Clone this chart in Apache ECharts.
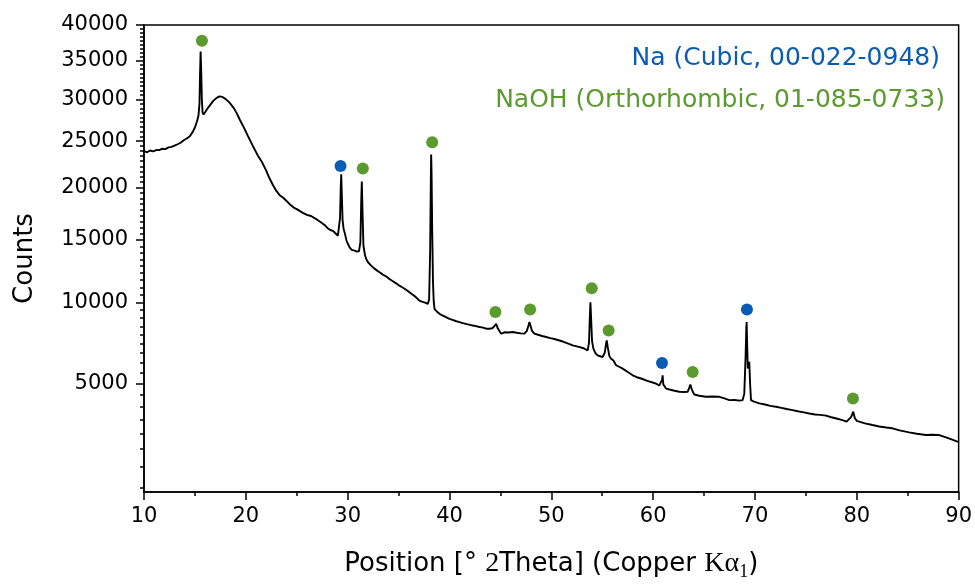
<!DOCTYPE html>
<html><head><meta charset="utf-8">
<script src="https://cdn.jsdelivr.net/npm/echarts@6/dist/echarts.min.js"></script>
<style>html,body{margin:0;padding:0;background:#fff}#c{width:975px;height:586px}</style>
</head><body><div id="c"></div>
<script>
const twoTheta = [10.0,10.3,10.6,10.9,11.2,11.5,11.8,12.1,12.4,12.7,13.0,13.3,13.6,13.9,14.2,14.5,14.8,15.0,15.2,15.35,15.45,15.5,15.56,15.62,15.68,15.75,15.85,16.0,16.2,16.45,16.8,17.1,17.4,17.7,18.0,18.4,18.8,19.1,19.4,19.8,20.2,20.7,21.2,21.6,22.0,22.3,22.66,23.0,23.3,23.64,24.0,24.3,24.7,25.0,25.28,25.6,26.0,26.4,27.0,27.4,27.8,28.06,28.3,28.55,28.8,29.04,29.15,29.25,29.32,29.37,29.42,29.5,29.6,29.7,29.9,30.19,30.4,30.68,30.9,31.11,31.25,31.33,31.39,31.45,31.55,31.7,31.82,32.0,32.31,32.6,32.9,33.13,33.5,33.8,34.1,34.4,34.8,35.08,35.4,35.7,36.06,36.4,36.7,37.04,37.3,37.6,37.87,38.0,38.1,38.17,38.2,38.24,38.3,38.38,38.45,38.53,38.75,39.02,39.3,39.6,40.0,40.3,40.6,40.98,41.3,41.7,42.0,42.29,42.6,42.94,43.3,43.6,43.92,44.2,44.4,44.58,44.75,45.07,45.4,45.8,46.21,46.6,47.0,47.36,47.6,47.78,47.85,47.95,48.1,48.34,48.7,49.1,49.49,49.9,50.3,50.8,51.2,51.6,52.1,52.5,52.8,53.08,53.3,53.57,53.7,53.78,53.84,53.9,54.0,54.13,54.35,54.55,54.8,55.05,55.25,55.38,55.44,55.55,55.7,55.87,56.1,56.36,56.7,57.01,57.5,57.99,58.4,58.9,59.3,59.8,60.28,60.6,60.78,60.88,60.93,61.0,61.27,61.7,62.1,62.57,63.0,63.39,63.55,63.65,63.8,64.04,64.53,65.19,65.8,66.5,67.0,67.48,68.0,68.5,68.78,68.95,69.08,69.15,69.18,69.24,69.3,69.44,69.52,69.61,69.9,70.42,71.0,71.5,72.06,72.6,73.1,73.69,74.2,74.8,75.33,75.9,76.4,76.97,77.5,78.0,78.6,79.0,79.19,79.45,79.65,79.8,80.0,80.24,80.8,81.54,82.2,82.9,83.5,84.2,85.14,85.9,86.78,87.4,88.09,88.7,89.3,89.88,90.0];
const counts = [23880,23750,23950,23850,24000,23990,24150,24100,24300,24350,24500,24650,24820,25100,25300,25570,26100,26580,27300,28000,29500,33000,36260,33500,30000,28400,28130,28400,28800,29220,29800,30150,30370,30300,30050,29590,28950,28300,27530,26600,25600,24430,23350,22650,21750,21000,20250,19650,19250,18990,18650,18330,18000,17850,17680,17500,17300,17200,16850,16590,16300,16040,15900,15825,15600,15380,15500,17000,20000,21360,19500,16800,16000,15680,14900,14360,14150,14070,14000,14020,14800,18500,20600,18000,14500,13700,13370,13100,12820,12600,12420,12290,12080,11950,11760,11600,11400,11240,11100,10950,10750,10550,10380,10130,10050,9980,9890,10200,14000,21000,23510,21500,16000,11500,10100,9540,9350,9190,9080,8980,8850,8780,8700,8630,8560,8490,8440,8400,8360,8300,8260,8190,8190,8220,8350,8515,8200,7870,7960,7940,7975,7930,7890,7870,8050,8450,8630,8400,8050,7870,7800,7720,7660,7590,7530,7440,7360,7260,7140,7080,7030,6980,6920,6840,7300,8900,10010,9000,7400,6940,6650,6540,6490,6450,6700,7250,7440,7000,6500,6350,6250,5980,5880,5790,5610,5430,5330,5250,5170,5080,5000,4900,4840,5200,5430,4950,4750,4690,4640,4590,4580,4590,4800,4950,4700,4460,4400,4350,4360,4350,4270,4190,4200,4170,4190,4500,6500,8300,8630,7000,5800,6170,5000,4190,4120,4040,3990,3930,3890,3840,3790,3740,3690,3640,3590,3550,3530,3500,3430,3380,3310,3250,3220,3450,3670,3400,3280,3250,3180,3110,3050,3010,2980,2900,2820,2770,2720,2730,2720,2640,2560,2480,2470];

const naTheta = [29.30, 60.87, 69.21];
const naCounts = [22240, 6110, 9490];
const naohTheta = [15.69, 31.49, 38.30, 44.51, 47.92, 53.97, 55.63, 63.88, 79.62];
const naohCounts = [37750, 21970, 24890, 9310, 9490, 11050, 8080, 5610, 4270];

const yTickValues = [5000, 10000, 15000, 20000, 25000, 30000, 35000, 40000];
const yMin = 1000, yMax = 40000;
const xMin = 10, xMax = 90, xStep = 10;

const naLabel = 'Na (Cubic, 00-022-0948)';
const naohLabel = 'NaOH (Orthorhombic, 01-085-0733)';

const NA_COLOR = '#0a5bb4', NAOH_COLOR = '#5a9a2f';
const sq = Math.sqrt;
const minorVals = [];
for (let k = 1; k * 5000 / 9 <= yMax + 1; k++) {
  const v = k * 5000 / 9;
  if (k % 9 !== 0 && v >= yMin) minorVals.push(sq(v));
}
const FONT = 'DejaVu Sans';
const chart = echarts.init(document.getElementById('c'), null, {renderer: 'canvas'});
chart.setOption({
  animation: false,
  backgroundColor: '#fff',
  grid: {left: 144, right: 16, top: 25, bottom: 92, show: true, borderColor: '#000', borderWidth: 1.5, backgroundColor: 'transparent'},
  xAxis: {
    type: 'value', min: xMin, max: xMax, interval: xStep,
    axisLine: {lineStyle: {color: '#000', width: 1.5}},
    axisTick: {length: 8, lineStyle: {color: '#000', width: 1.5}},
    minorTick: {show: true, splitNumber: 2, length: 4, lineStyle: {color: '#000', width: 1.5}},
    splitLine: {show: false}, minorSplitLine: {show: false},
    axisLabel: {fontFamily: FONT, fontSize: 21, color: '#000', margin: 14},
    name: '{a|Position [° }{b|2}{a|Theta] (Copper }{b|Kα}{d|1}{a|)}',
    nameLocation: 'middle', nameGap: 55,
    nameTextStyle: {
      rich: {
        a: {fontFamily: FONT, fontSize: 26, color: '#000', lineHeight: 34},
        b: {fontFamily: 'Liberation Serif', fontSize: 28, color: '#000', lineHeight: 34},
        d: {fontFamily: 'Liberation Serif', fontSize: 18, color: '#000', lineHeight: 18, verticalAlign: 'bottom'}
      }
    }
  },
  yAxis: [{
    type: 'value', min: sq(yMin), max: sq(yMax),
    axisLine: {show: true, lineStyle: {color: '#000', width: 1.5}},
    axisTick: {show: true, length: 8, customValues: yTickValues.map(sq), lineStyle: {color: '#000', width: 1.5}},
    axisLabel: {customValues: yTickValues.map(sq), formatter: v => String(Math.round(v * v)), fontFamily: FONT, fontSize: 21, color: '#000', margin: 16},
    splitLine: {show: false},
    name: 'Counts', nameLocation: 'middle', nameGap: 106, nameRotate: 90,
    nameTextStyle: {fontFamily: FONT, fontSize: 26, color: '#000'}
  }, {
    type: 'value', min: sq(yMin), max: sq(yMax), position: 'left', offset: 0,
    axisLine: {show: false},
    axisTick: {show: true, length: 4, customValues: minorVals, lineStyle: {color: '#000', width: 1.5}},
    axisLabel: {show: false},
    splitLine: {show: false}
  }],
  graphic: [
    {type: 'text', right: 35, top: 46, style: {text: naLabel, fill: NA_COLOR, font: '25px "DejaVu Sans"', textAlign: 'right'}},
    {type: 'text', right: 30, top: 88, style: {text: naohLabel, fill: NAOH_COLOR, font: '25px "DejaVu Sans"', textAlign: 'right'}}
  ],
  series: [{
    type: 'line', name: 'pattern', yAxisIndex: 0,
    data: twoTheta.map((t, i) => [t, sq(counts[i])]),
    symbol: 'none', showSymbol: false, sampling: 'none',
    lineStyle: {color: '#000', width: 1.9}, z: 2
  }, {
    type: 'scatter', name: naLabel, yAxisIndex: 0,
    data: naTheta.map((t, i) => [t, sq(naCounts[i])]),
    symbolSize: 12, itemStyle: {color: NA_COLOR, opacity: 1}, z: 3
  }, {
    type: 'scatter', name: naohLabel, yAxisIndex: 0,
    data: naohTheta.map((t, i) => [t, sq(naohCounts[i])]),
    symbolSize: 12, itemStyle: {color: NAOH_COLOR, opacity: 1}, z: 3
  }]
});
</script></body></html>
